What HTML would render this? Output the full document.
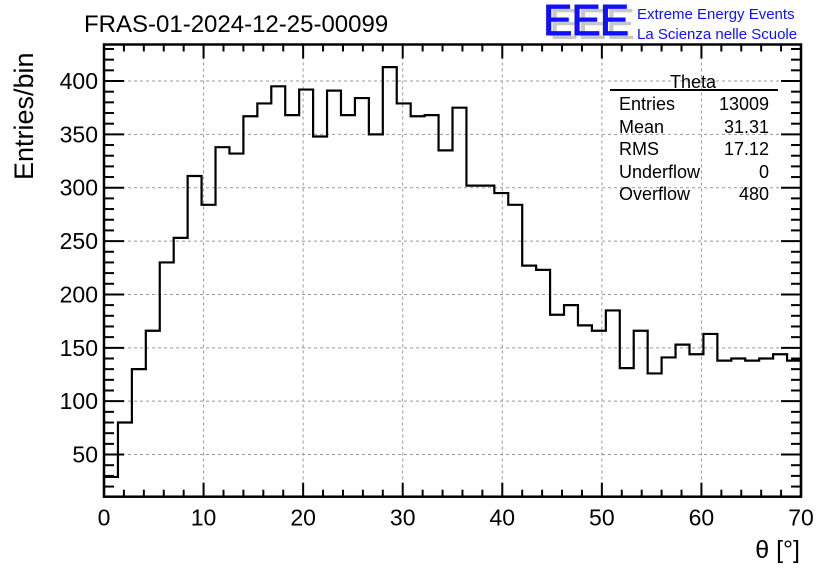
<!DOCTYPE html>
<html><head><meta charset="utf-8"><style>
html,body{margin:0;padding:0;background:#fff;}
svg{display:block;font-family:"Liberation Sans",sans-serif;}
</style></head><body>
<svg id="c" width="836" height="572" viewBox="0 0 836 572">
<rect width="836" height="572" fill="#fff"/>
<text x="84" y="32" font-size="24">FRAS-01-2024-12-25-00099</text>
<g>
<text x="549" y="39" font-size="44" fill="#c8c8c8" letter-spacing="-1">EEE</text>
<text x="543" y="35" font-size="44" fill="#1010ff" letter-spacing="-1" stroke="#1010ff" stroke-width="1">EEE</text>
<text x="637" y="19" font-size="15" fill="#1010ff">Extreme Energy Events</text>
<text x="637" y="39" font-size="15" fill="#1010ff">La Scienza nelle Scuole</text>
</g>
<text transform="translate(33,180) rotate(-90)" font-size="27">Entries/bin</text>
<text x="800" y="558" font-size="25" text-anchor="end">θ [°]</text>
<g id="grid"></g><g id="hist"></g><g id="axes"></g>
<g font-size="18">
<text x="693" y="88" text-anchor="middle">Theta</text>
<line x1="610" y1="90" x2="778" y2="90" stroke="#000" stroke-width="2"/>
<text x="619" y="110">Entries</text><text x="769" y="110" text-anchor="end">13009</text>
<text x="619" y="133">Mean</text><text x="769" y="133" text-anchor="end">31.31</text>
<text x="619" y="155">RMS</text><text x="769" y="155" text-anchor="end">17.12</text>
<text x="619" y="178">Underflow</text><text x="769" y="178" text-anchor="end">0</text>
<text x="619" y="200">Overflow</text><text x="769" y="200" text-anchor="end">480</text>
</g>
</svg>
<script>
const binCounts = [29,80,130,166,230,253,311,284,338,332,367,379,395,368,392,348,391,368,384,350,413,379,367,368,335,375,302,302,295,284,227,223,181,190,171,166,185,131,166,126,141,153,144,163,138,140,138,140,144,138];
const xTicks = [0,10,20,30,40,50,60,70];
const yTicks = [50,100,150,200,250,300,350,400];
const xMin=0,xMax=70,yMin=10.5,yMax=434.2;
const L=104,R=801,T=44.5,B=496.7;
const sx=v=>L+(v-xMin)/(xMax-xMin)*(R-L);
const sy=v=>B-(v-yMin)/(yMax-yMin)*(B-T);
const NS='http://www.w3.org/2000/svg';
function mk(tag,attrs,parent){const e=document.createElementNS(NS,tag);for(const k in attrs)e.setAttribute(k,attrs[k]);parent.appendChild(e);return e;}
const grid=document.getElementById('grid'),hist=document.getElementById('hist'),axes=document.getElementById('axes');
xTicks.forEach(t=>{if(t>xMin&&t<xMax){const g=mk('line',{x1:sx(t),x2:sx(t),y1:T,y2:B,stroke:'#999','stroke-dasharray':'3,3','stroke-width':1},grid);

}});
yTicks.forEach(t=>{const g=mk('line',{x1:L,x2:R,y1:sy(t),y2:sy(t),stroke:'#999','stroke-dasharray':'3,3','stroke-width':1},grid);

});
const bw=(xMax-xMin)/binCounts.length;
let d='M'+sx(xMin)+','+B;
binCounts.forEach((v,i)=>{const y=Math.max(T,Math.min(B,sy(v)));d+=' L'+sx(xMin+i*bw)+','+y+' L'+sx(xMin+(i+1)*bw)+','+y;});
d+=' L'+sx(xMax)+','+B;
const p=mk('path',{d:d,fill:'none',stroke:'#000','stroke-width':2.2},hist);


const fr=mk('rect',{x:L,y:T,width:R-L,height:B-T,fill:'none',stroke:'#000','stroke-width':2.5},axes);


for(let v=0;v<=70;v+=2){const maj=v%10===0,len=maj?14:7;
mk('line',{x1:sx(v),x2:sx(v),y1:B,y2:B-len,stroke:'#000','stroke-width':2},axes);
mk('line',{x1:sx(v),x2:sx(v),y1:T,y2:T+len,stroke:'#000','stroke-width':2},axes);}
for(let v=20;v<=430;v+=10){const maj=v%50===0,len=maj?20:10;
mk('line',{x1:L,x2:L+len,y1:sy(v),y2:sy(v),stroke:'#000','stroke-width':2},axes);
mk('line',{x1:R,x2:R-len,y1:sy(v),y2:sy(v),stroke:'#000','stroke-width':2},axes);}
xTicks.forEach(t=>{const e=mk('text',{x:sx(t),y:B+29,'font-size':23,'text-anchor':'middle'},axes);e.textContent=t;

});
yTicks.forEach(t=>{const e=mk('text',{x:L-6,y:sy(t)+8,'font-size':23,'text-anchor':'end'},axes);e.textContent=t;

});
</script>
</body></html>
